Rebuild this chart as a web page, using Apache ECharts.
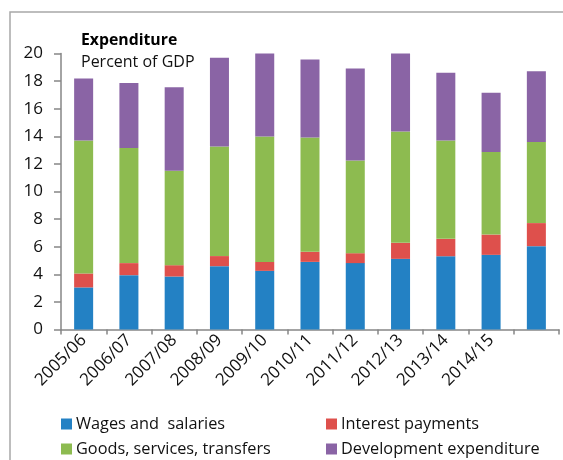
<!DOCTYPE html>
<html>
<head>
<meta charset="utf-8">
<script src="https://cdn.jsdelivr.net/npm/echarts@6/dist/echarts.min.js"></script>
<style>html,body{margin:0;padding:0;background:#fff}#c{width:563px;height:460px}</style>
</head>
<body>
<div id="c"></div>
<script>
const categories = ['2005/06','2006/07','2007/08','2008/09','2009/10','2010/11','2011/12','2012/13','2013/14','2014/15',''];
const wages = [3.05, 3.94, 3.84, 4.59, 4.25, 4.90, 4.81, 5.12, 5.31, 5.41, 6.04];
const interest = [1.01, 0.87, 0.82, 0.73, 0.65, 0.73, 0.72, 1.16, 1.26, 1.47, 1.67];
const goods = [9.64, 8.35, 6.84, 7.94, 9.09, 8.28, 6.72, 8.07, 7.13, 5.98, 5.88];
const development = [4.49, 4.71, 6.06, 6.44, 6.06, 5.65, 6.66, 5.72, 4.90, 4.29, 5.13];
const yTicks = {min: 0, max: 20, interval: 2};
const names = ['Wages and  salaries', 'Interest payments', 'Goods, services, transfers', 'Development expenditure'];
const colors = ['#2381C4', '#DE504C', '#8DBB50', '#8A64A5'];

const FONT = 'Open Sans';
const chart = echarts.init(document.getElementById('c'), null, {renderer: 'canvas'});
const seriesData = [wages, interest, goods, development];
function legendAt(i, left, top) {
  return {
    data: [names[i]], left: left, top: top, padding: 0, orient: 'horizontal',
    icon: 'rect', itemWidth: 11, itemHeight: 11, itemGap: 0,
    textStyle: {fontFamily: FONT, fontSize: 16.3, color: '#111', padding: [0, 0, 0, -1]},
    selectedMode: false
  };
}
chart.setOption({
  animation: false,
  color: colors,
  grid: {left: 61, right: 4, top: 53.5, bottom: 130.5, containLabel: false},
  legend: [legendAt(0, 61, 416), legendAt(1, 326, 416), legendAt(2, 61, 441), legendAt(3, 326, 441)],
  graphic: [
    {type: 'rect', shape: {x: 10, y: 12, width: 620, height: 520}, style: {fill: 'none', stroke: '#a8a8a8', lineWidth: 1.5}, silent: true},
    {type: 'text', left: 81, top: 32, style: {text: 'Expenditure', font: 'bold 15.8px ' + FONT, fill: '#000'}},
    {type: 'text', left: 81, top: 54, style: {text: 'Percent of GDP', font: '16px ' + FONT, fill: '#111'}}
  ],
  xAxis: {
    type: 'category', data: categories,
    axisLine: {lineStyle: {color: '#868686', width: 1.5}},
    axisTick: {show: true, length: 5, lineStyle: {color: '#868686', width: 1.5}, alignWithLabel: false},
    axisLabel: {rotate: 45, interval: 0, margin: 8, fontFamily: FONT, fontSize: 17, color: '#111'},
    splitLine: {show: false}
  },
  yAxis: {
    type: 'value', min: yTicks.min, max: yTicks.max, interval: yTicks.interval,
    axisLine: {show: true, lineStyle: {color: '#868686', width: 1.5}},
    axisTick: {show: true, length: 7, lineStyle: {color: '#868686', width: 1.5}},
    axisLabel: {margin: 18, fontFamily: FONT, fontSize: 17, color: '#111'},
    splitLine: {show: false}
  },
  series: seriesData.map((d, i) => ({
    name: names[i], type: 'bar', stack: 'total', data: d, barWidth: '42%',
    itemStyle: {color: colors[i]}
  }))
});
</script>
</body>
</html>
